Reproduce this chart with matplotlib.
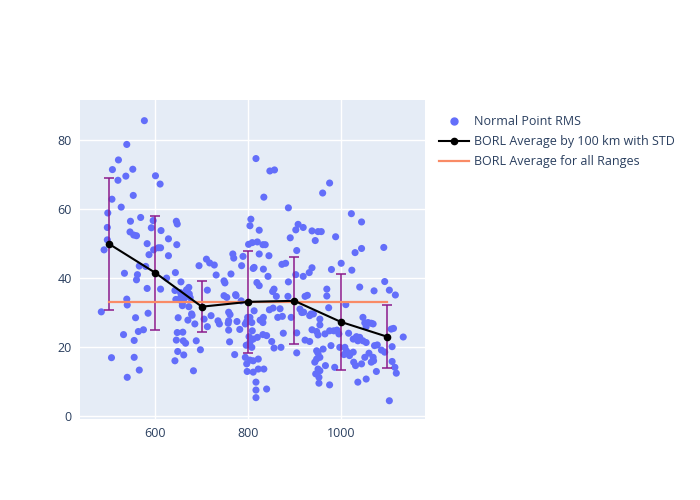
import matplotlib
matplotlib.use("Agg")
import matplotlib.pyplot as plt
from matplotlib.lines import Line2D

plt.rcParams['font.family'] = ['Open Sans', 'DejaVu Sans']

# Normal point RMS scatter (range, rms)
pts = [
    (576, 85.6), (538, 78.7), (520, 74.2), (507, 71.4), (551, 71.5), (536, 69.5), (519, 68.3),
    (600, 69.6), (610, 67.2), (506, 62.8), (552, 63.9), (526, 60.5), (817, 74.6), (847, 71.0),
    (857, 71.3), (976, 67.5), (961, 64.6), (834, 63.4), (887, 60.3),
    (497, 58.8), (496, 54.6), (496, 51.0), (489, 48.1), (546, 56.4), (568, 57.5), (595, 56.6),
    (591, 54.5), (612, 53.7), (545, 53.3), (553, 52.4), (559, 52.2), (645, 56.4), (647, 55.6),
    (628, 51.3), (646, 49.6), (582, 49.9), (596, 48.1), (606, 48.7), (611, 48.7), (586, 46.7),
    (628, 46.4), (565, 43.4), (579, 43.3), (533, 41.3), (561, 40.9), (559, 39.4), (582, 36.9),
    (611, 36.7), (624, 39.9), (643, 41.5), (655, 38.8), (642, 36.3), (672, 37.2), (667, 36.5),
    (669, 35.9), (663, 35.0), (654, 35.7), (661, 33.8), (675, 34.2), (658, 32.6), (538, 33.8),
    (539, 32.1), (483, 30.1), (694, 43.5), (710, 45.4), (717, 44.3), (727, 43.7), (712, 36.4),
    (731, 40.8), (748, 39.1), (750, 38.5), (763, 41.1), (767, 46.9), (769, 45.7), (789, 46.2),
    (786, 43.5), (774, 34.8), (748, 34.8), (754, 34.3), (804, 55.1), (806, 57.0), (809, 50.2),
    (801, 49.7), (811, 42.7),
    (557, 28.4), (584, 29.7), (563, 24.4), (574, 24.9), (531, 23.5), (554, 21.8), (505, 16.8),
    (554, 16.9), (565, 13.2), (539, 11.1), (644, 33.7), (654, 34.2), (673, 35.3), (658, 31.9),
    (672, 31.6), (678, 29.5), (670, 27.7), (649, 28.4), (685, 26.6), (647, 24.1), (659, 24.2),
    (645, 21.9), (660, 21.7), (665, 21.0), (648, 18.6), (661, 17.6), (642, 15.9), (682, 13.0),
    (688, 21.7), (697, 19.1), (705, 28.0), (712, 25.8), (720, 29.0), (735, 27.5), (738, 26.6),
    (758, 27.5), (757, 26.8), (758, 24.8), (760, 21.4), (771, 17.7), (776, 27.3), (782, 25.0),
    (773, 35.1), (785, 33.3), (796, 20.4), (794, 16.9), (804, 16.1), (797, 15.0), (798, 12.8),
    (811, 12.6), (817, 9.7), (817, 7.4), (817, 5.2),
    (679, 29.1), (758, 30.0), (761, 29.3), (794, 26.6), (797, 27.3), (799, 28.5), (809, 24.6),
    (802, 22.9), (811, 22.2),
    (1023, 58.6), (1045, 56.2), (824, 53.8), (908, 55.5), (919, 54.6), (903, 53.9), (938, 53.6),
    (951, 53.4), (958, 53.4), (891, 51.6), (945, 50.8), (989, 51.9), (820, 50.4), (832, 49.6),
    (837, 49.6), (824, 46.9), (845, 46.4), (905, 47.9), (1031, 47.3), (1045, 48.5), (1093, 48.8),
    (813, 43.0), (833, 42.5), (843, 40.4), (873, 43.9), (881, 44.2), (938, 42.9), (932, 41.5),
    (919, 40.4), (980, 42.4), (1001, 44.2), (1024, 42.2), (903, 40.9), (887, 38.8), (819, 38.6),
    (824, 37.7), (856, 36.7), (853, 36.0), (861, 34.6), (886, 34.6), (923, 34.6), (928, 34.9),
    (970, 36.7), (970, 34.7), (1041, 37.3), (1072, 36.2), (1095, 38.9), (1105, 36.4), (1118, 35.0),
    (1011, 32.2), (974, 31.3), (813, 30.4), (846, 30.7), (854, 31.2), (869, 31.0), (912, 30.9),
    (920, 30.0), (936, 29.5),
    (804, 28.5), (808, 27.0), (826, 27.7), (832, 27.0), (833, 28.5), (864, 28.5), (874, 28.8),
    (893, 28.5), (916, 29.9), (933, 29.0), (941, 29.5), (955, 28.0), (955, 26.3), (820, 22.7),
    (832, 23.5), (840, 23.2), (876, 23.9), (851, 21.5), (856, 19.6), (871, 19.8), (905, 24.0),
    (905, 18.2), (923, 21.9), (933, 21.5), (938, 24.9), (948, 24.4), (951, 23.4), (966, 23.7),
    (976, 24.6), (985, 24.6), (992, 24.8), (996, 23.7), (979, 20.3), (1017, 23.9), (1027, 22.2),
    (1034, 22.9), (1037, 21.7), (1041, 22.7), (1048, 21.7), (1055, 21.2), (1048, 28.5),
    (1052, 26.9), (1059, 27.0), (1066, 26.8), (1070, 26.6), (1055, 25.8), (1109, 25.1),
    (1114, 25.3), (1135, 22.8), (1111, 20.0), (1073, 20.3), (1079, 20.5), (1088, 19.0),
    (1095, 18.4), (1009, 19.8), (1012, 18.8), (1027, 18.4), (1028, 15.5), (1032, 14.5),
    (1045, 15.0), (1052, 16.9), (1061, 18.1), (1070, 16.9), (1071, 15.9), (1066, 15.5),
    (1055, 10.6), (1077, 12.8), (1105, 4.3), (1111, 15.7), (1117, 14.0), (1120, 12.3),
    (987, 14.0), (967, 14.5), (953, 9.4), (976, 8.9), (948, 16.4), (944, 15.5), (951, 13.5),
    (955, 13.0), (946, 12.1), (953, 11.1), (948, 18.8), (951, 18.1), (955, 16.9), (962, 19.3),
    (804, 21.3), (808, 19.8), (811, 15.9), (822, 16.4), (822, 13.5), (834, 13.5), (840, 7.7),
    (998, 19.8), (1007, 17.7), (1018, 18.1), (1019, 17.4), (1037, 9.7),
]
rms_x = [p[0] for p in pts]
rms_y = [p[1] for p in pts]

# averages per 100 km bin with std
bin_x = [500, 600, 700, 800, 900, 1000, 1100]
bin_mean = [49.8, 41.4, 31.6, 33.0, 33.3, 27.2, 22.9]
bin_std = [19.2, 16.6, 7.4, 14.8, 12.6, 14.0, 9.2]

# overall average
all_avg = 32.9
all_range = [500, 1100]

fig = plt.figure(figsize=(7, 5), dpi=100)
ax = fig.add_axes([80 / 700, 1 - 419 / 500, 345 / 700, 319 / 500])
ax.set_facecolor('#E5ECF6')
for s in ax.spines.values():
    s.set_visible(False)
ax.grid(True, color='white', linewidth=1)
ax.set_axisbelow(True)

ax.scatter(rms_x, rms_y, s=26, color='#636EFA', edgecolors='none', zorder=2)
ax.errorbar(bin_x, bin_mean, yerr=bin_std, color='black', marker='o', markersize=4.5,
            linewidth=1.5, ecolor='#8B1A8B', elinewidth=1.1, capsize=3.5, capthick=1.1,
            zorder=3)
ax.plot(all_range, [all_avg, all_avg], color='#F98B66', linewidth=1.6, zorder=3)

ax.set_xlim(437, 1182)
ax.set_ylim(-1, 91.6)
ax.set_xticks([600, 800, 1000])
ax.set_yticks([0, 20, 40, 60, 80])
ax.tick_params(length=0, labelsize=9, labelcolor='#2a3f5f', pad=6)

handles = [
    Line2D([], [], linestyle='none', marker='o', markersize=5, color='#636EFA'),
    Line2D([], [], color='black', linewidth=1.5, marker='o', markersize=4.5),
    Line2D([], [], color='#F98B66', linewidth=1.6),
]
labels = ['Normal Point RMS', 'BORL Average by 100 km with STD', 'BORL Average for all Ranges']
fig.legend(handles, labels, loc='upper left', bbox_to_anchor=(428 / 700, 1 - 104 / 500),
           frameon=False, fontsize=9, labelcolor='#2a3f5f', handlelength=2.4,
           handletextpad=0.4, labelspacing=0.55)

fig.savefig('out.png', dpi=100)
